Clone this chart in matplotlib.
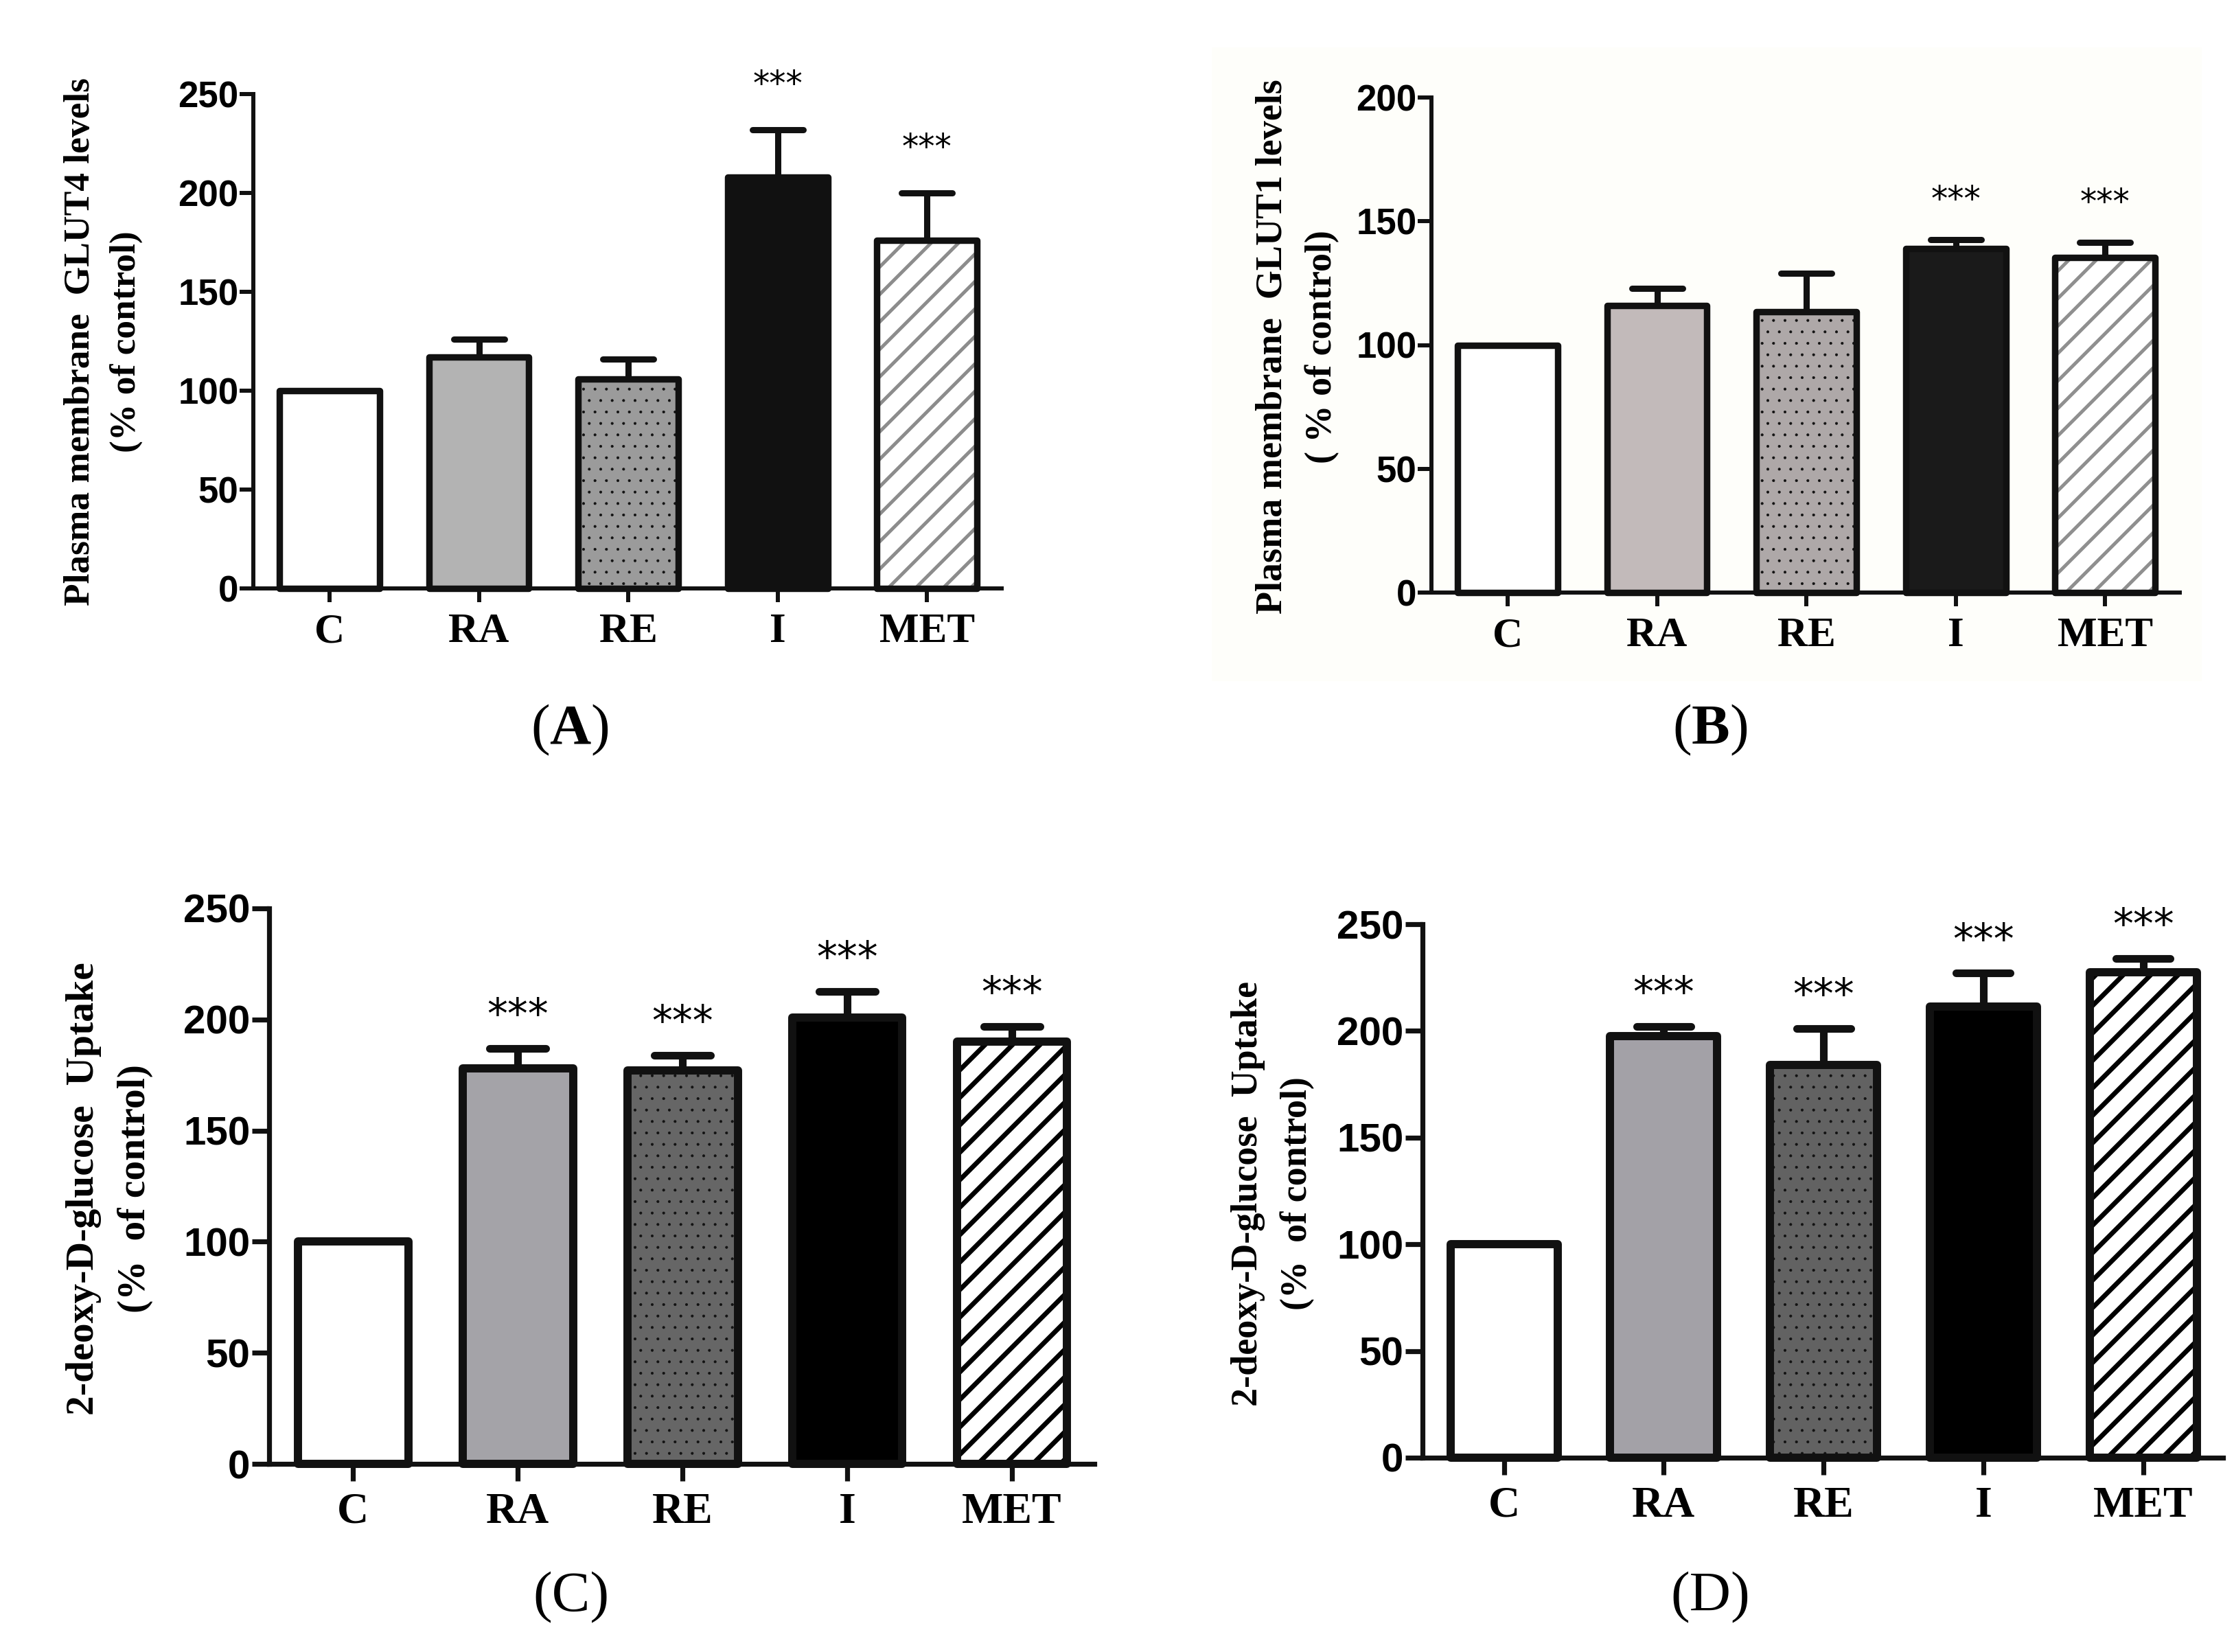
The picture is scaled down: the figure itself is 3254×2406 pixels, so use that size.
import matplotlib
matplotlib.use('Agg')
import matplotlib.pyplot as plt
from matplotlib.collections import LineCollection
from matplotlib.patches import Rectangle
import numpy as np

plt.rcParams['hatch.linewidth'] = 0.5
plt.rcParams['mathtext.fontset'] = 'custom'
plt.rcParams['mathtext.rm'] = 'Liberation Serif'
plt.rcParams['mathtext.bf'] = 'Liberation Serif:bold'

W, H = 3255, 2406

groups = ['C', 'RA', 'RE', 'I', 'MET']

# (A) plasma membrane GLUT4
glut4_mean = [100, 117, 106, 208, 176]
glut4_err = [0, 9, 10, 24, 24]
glut4_sig = ['', '', '', '***', '***']

# (B) plasma membrane GLUT1
glut1_mean = [100, 116, 113.5, 139, 135.5]
glut1_err = [0, 7, 15.5, 3.7, 6]
glut1_sig = ['', '', '', '***', '***']

# (C) 2-DG uptake
uptake_c_mean = [100, 178, 177, 201, 190]
uptake_c_err = [0, 9, 7, 11.5, 7]
uptake_c_sig = ['', '***', '***', '***', '***']

# (D) 2-DG uptake
uptake_d_mean = [100, 197.5, 184, 211.5, 227.5]
uptake_d_err = [0, 4.5, 17, 15.5, 6.5]
uptake_d_sig = ['', '***', '***', '***', '***']

edge = '#111111'

small = dict(bar_lw=6.8, axis_lw=4.3, tick_len=14.5, err_lw=6.5, cap=0.17,
             ytick_fs=38, xtick_fs=44, star_fs=35,
             hatch_lw=3.6, xpad=11, ypad=1)
big = dict(bar_lw=8.6, axis_lw=5.2, tick_len=18, err_lw=8, cap=0.17,
           ytick_fs=42, xtick_fs=46, star_fs=43,
           hatch_lw=5, xpad=12, ypad=2)

panels = [
    dict(box=(369, 137, 1459, 857), mean=glut4_mean, err=glut4_err, sig=glut4_sig, top=250,
         fills=['white', '#b3b3b3', '#9b9b9b', '#111111', 'white'], hatch='#8c8c8c',
         lab1='Plasma membrane  GLUT4 levels', lab2='(% of control)', lab_fs=38.5, star_off=36.5,
         labx=(117, 184), laby=498, tag=r'($\mathbf{A}$)', tagxy=(830, 1063), s=small),
    dict(box=(2085, 142, 3175, 863), mean=glut1_mean, err=glut1_err, sig=glut1_sig, top=200,
         fills=['white', '#c2baba', '#aea8a8', '#1a1a1a', 'white'], hatch='#8f8f8f',
         lab1='Plasma membrane  GLUT1 levels', lab2='( % of control)', lab_fs=39, star_off=31,
         labx=(1854, 1926), laby=505, tag=r'($\mathbf{B}$)', tagxy=(2491, 1063), s=small),
    dict(box=(392, 1323, 1594, 2132), mean=uptake_c_mean, err=uptake_c_err, sig=uptake_c_sig, top=250,
         fills=['white', '#a4a3a8', '#666666', '#000000', 'white'], hatch='#000000',
         lab1='2-deoxy-D-glucose  Uptake', lab2='(%  of control)', lab_fs=41.5, star_off=21.5,
         labx=(122, 197), laby=1731, tag='(C)', tagxy=(832, 2327), s=big),
    dict(box=(2072, 1346, 3238, 2123), mean=uptake_d_mean, err=uptake_d_err, sig=uptake_d_sig, top=250,
         fills=['white', '#a3a1a7', '#626262', '#000000', 'white'], hatch='#000000',
         lab1='2-deoxy-D-glucose  Uptake', lab2='(%  of control)', lab_fs=39, star_off=21.5,
         labx=(1818, 1890), laby=1738, tag='(D)', tagxy=(2491, 2327), s=big),
]

fig = plt.figure(figsize=(W / 100, H / 100), dpi=100)
fig.patch.set_facecolor('white')

# very faint background behind panel B
fig.patches.append(Rectangle((1765 / W, 1 - 992 / H), (3207 - 1765) / W, (992 - 69) / H,
                             transform=fig.transFigure, facecolor='#fefefa', edgecolor='none',
                             zorder=-1))


def diag_hatch(ax, bar, color, lw, step=40):
    (x0, y0), (x1, y1) = ax.transData.transform(
        [(bar.get_x(), 0), (bar.get_x() + bar.get_width(), bar.get_height())])
    w = x1 - x0
    segs = []
    for c in np.arange(-w + 10, y1 - y0, step):
        p = np.array([[x0, y0 + c], [x1, y0 + c + w]])
        segs.append(ax.transData.inverted().transform(p))
    lc = LineCollection(segs, colors=color, linewidths=lw, zorder=2.5, capstyle='butt')
    ax.add_collection(lc, autolim=False)
    lc.set_clip_path(bar)


for p in panels:
    s = p['s']
    l, t, r, b = p['box']
    ax = fig.add_axes([l / W, 1 - b / H, (r - l) / W, (b - t) / H])
    ax.patch.set_alpha(0)
    x = np.arange(len(groups))
    ax.set_xlim(-0.51, 4.5)
    ax.set_ylim(0, p['top'])

    fill = ax.bar(x, p['mean'], width=0.67, color=p['fills'], edgecolor=edge, linewidth=0,
                  zorder=2, clip_on=False)
    fill[2].set_hatch('.')
    diag_hatch(ax, fill[4], p['hatch'], s['hatch_lw'])
    ax.bar(x, p['mean'], width=0.67, fill=False, edgecolor=edge, linewidth=s['bar_lw'],
           joinstyle='round', zorder=3, clip_on=False)

    mean = np.array(p['mean'], dtype=float)
    err = np.array(p['err'], dtype=float)
    tops = mean + err
    has = err > 0
    ax.vlines(x[has], mean[has], tops[has], colors=edge, linewidth=s['err_lw'], zorder=2.8)
    ax.hlines(tops[has], x[has] - s['cap'], x[has] + s['cap'], colors=edge,
              linewidth=s['err_lw'], capstyle='round', zorder=2.8)

    for xi, yt, st in zip(x, tops, p['sig']):
        if st:
            ax.annotate(st, (xi, yt), xytext=(0, p['star_off']), textcoords='offset points',
                        ha='center', va='baseline', fontsize=s['star_fs'],
                        family='DejaVu Sans', annotation_clip=False)

    for side in ['top', 'right']:
        ax.spines[side].set_visible(False)
    for side in ['left', 'bottom']:
        ax.spines[side].set_linewidth(s['axis_lw'])
        ax.spines[side].set_color(edge)

    ax.set_yticks(np.arange(0, p['top'] + 1, 50))
    ax.set_xticks(x)
    ax.set_xticklabels(groups, family='Liberation Serif', weight='bold', fontsize=s['xtick_fs'])
    ax.set_yticklabels([str(v) for v in range(0, p['top'] + 1, 50)],
                       family='Liberation Sans', weight='bold', fontsize=s['ytick_fs'])
    ax.tick_params(axis='both', length=s['tick_len'], width=s['axis_lw'], color=edge)
    ax.tick_params(axis='x', pad=s['xpad'])
    ax.tick_params(axis='y', pad=s['ypad'])

    fig.text(p['labx'][0] / W, 1 - p['laby'] / H, p['lab1'], rotation=90, ha='center', va='center',
             family='Liberation Serif', weight='bold', fontsize=p['lab_fs'])
    fig.text(p['labx'][1] / W, 1 - p['laby'] / H, p['lab2'], rotation=90, ha='center', va='center',
             family='Liberation Serif', weight='bold', fontsize=p['lab_fs'])

    fig.text(p['tagxy'][0] / W, 1 - p['tagxy'][1] / H, p['tag'], ha='center', va='center',
             family='Liberation Serif', fontsize=60)

fig.savefig('out.png', dpi=100)
